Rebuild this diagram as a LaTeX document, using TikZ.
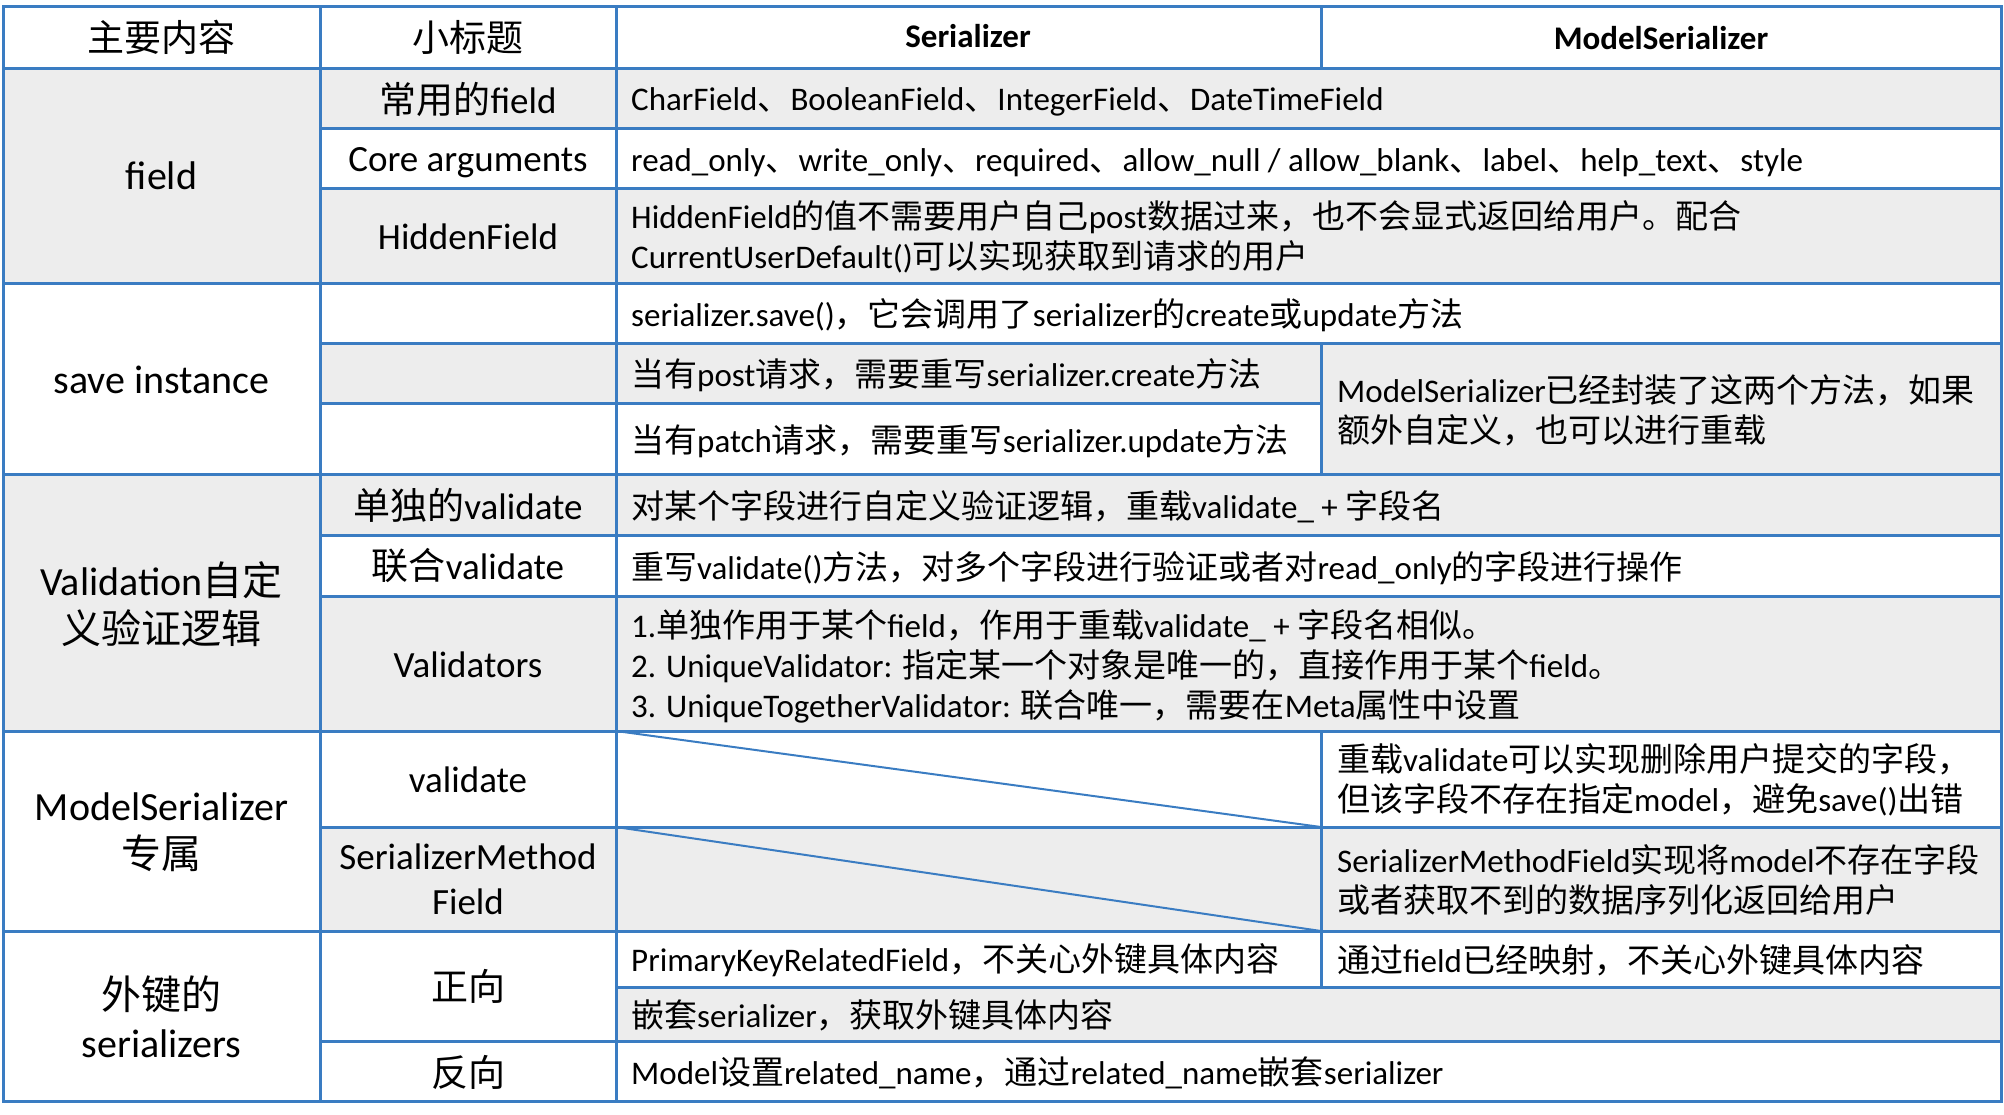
\documentclass[tikz,border=0pt]{standalone}
\usepackage{xcolor}
\usepackage{fontspec}
\usepackage{tikz}
\setmainfont{Carlito}
\newfontfamily\cjkfont{Noto Sans CJK SC}

% switch to the CJK font for Chinese characters
\XeTeXinterchartokenstate=1
\newXeTeXintercharclass\cjkclass
\newcount\cjkcode
\def\setcjkrange#1#2{\cjkcode=#1\relax
  \loop\XeTeXcharclass\cjkcode=\cjkclass
  \ifnum\cjkcode<#2\advance\cjkcode by 1\repeat}
\setcjkrange{"3000}{"303F}
\setcjkrange{"4E00}{"9FFF}
\setcjkrange{"FF00}{"FFEF}
\XeTeXinterchartoks 0 \cjkclass = {\cjkfont}
\XeTeXinterchartoks 4095 \cjkclass = {\cjkfont}
\XeTeXinterchartoks \cjkclass 0 = {\rmfamily}
\XeTeXinterchartoks \cjkclass 4095 = {\rmfamily}

\definecolor{tableblue}{RGB}{58,124,194}
\definecolor{cellgray}{RGB}{237,237,237}

\tikzset{
  gridline/.style={draw=tableblue, line width=3pt},
  grouptext/.style={inner sep=0pt, align=center, font=\fontsize{40}{48}\selectfont},
  subtext/.style={inner sep=0pt, align=center, font=\fontsize{37}{45}\selectfont},
  celltext/.style={inner sep=0pt, anchor=west, align=left, font=\fontsize{33}{40}\selectfont},
}

\begin{document}
\begin{tikzpicture}[x=1pt,y=-1pt]
    \useasboundingbox (0,0) rectangle (2004,1114);

    % Shade the gray cells
    \fill[cellgray] (3,68) rectangle (320,283);
    \fill[cellgray] (320,68) rectangle (2001,128);
    \fill[cellgray] (320,188) rectangle (2001,283);
    \fill[cellgray] (320,343) rectangle (1321,403);
    \fill[cellgray] (1321,343) rectangle (2001,474);
    \fill[cellgray] (3,474) rectangle (320,731);
    \fill[cellgray] (320,474) rectangle (2001,535);
    \fill[cellgray] (320,596) rectangle (2001,731);
    \fill[cellgray] (320,827) rectangle (2001,931);
    \fill[cellgray] (616,987) rectangle (2001,1041);

    % Draw the rules of the table
    \draw[gridline] (3,6) rectangle (2001,1101);
    \draw[gridline] (320,6) -- (320,1101);
    \draw[gridline] (616,6) -- (616,1101);
    \draw[gridline] (1321,6) -- (1321,68);
    \draw[gridline] (1321,343) -- (1321,474);
    \draw[gridline] (1321,731) -- (1321,987);
    \draw[gridline] (3,68) -- (2001,68);
    \draw[gridline] (320,128) -- (2001,128);
    \draw[gridline] (320,188) -- (2001,188);
    \draw[gridline] (3,283) -- (2001,283);
    \draw[gridline] (320,343) -- (2001,343);
    \draw[gridline] (320,403) -- (1321,403);
    \draw[gridline] (3,474) -- (2001,474);
    \draw[gridline] (320,535) -- (2001,535);
    \draw[gridline] (320,596) -- (2001,596);
    \draw[gridline] (3,731) -- (2001,731);
    \draw[gridline] (320,827) -- (2001,827);
    \draw[gridline] (3,931) -- (2001,931);
    \draw[gridline] (616,987) -- (2001,987);
    \draw[gridline] (320,1041) -- (2001,1041);

    % Diagonals of the empty Serializer cells
    \coordinate (valtop) at (616,731);
    \coordinate (valbot) at (1321,827);
    \coordinate (smftop) at (616,827);
    \coordinate (smfbot) at (1321,931);
    \draw[draw=tableblue, line width=2pt] (valtop) -- (valbot);
    \draw[draw=tableblue, line width=2pt] (smftop) -- (smfbot);

    % Header row
    \node[subtext] (hdmain) at (161.5,37) {主要内容};
    \node[subtext] (hdsub) at (468,37) {小标题};
    \node[inner sep=0pt, font=\fontsize{33}{40}\selectfont\bfseries] (hdser) at (968,36) {Serializer};
    \node[inner sep=0pt, font=\fontsize{33}{40}\selectfont\bfseries] (hdmodel) at (1661,38) {ModelSerializer};

    % First column
    \node[grouptext] (grpfield) at (161.5,176) {field};
    \node[grouptext] (grpsave) at (161.5,380) {save instance};
    \node[grouptext] (grpvalid) at (161.5,604) {Validation自定\\义验证逻辑};
    \node[grouptext] (grpmodel) at (161.5,832) {ModelSerializer\\专属};
    \node[grouptext] (grpfk) at (161.5,1017) {外键的\\serializers};

    % Second column
    \node[subtext] (subcommon) at (468,99) {常用的field};
    \node[subtext] (subcore) at (468,163) {Core arguments};
    \node[subtext] (subhidden) at (468,237) {HiddenField};
    \node[subtext] (subsingle) at (468,505) {单独的validate};
    \node[subtext] (subjoint) at (468,566) {联合validate};
    \node[subtext] (subvalidators) at (468,665) {Validators};
    \node[subtext] (subvalidate) at (468,780) {validate};
    \node[subtext] (submethod) at (468,879) {SerializerMethod\\Field};
    \node[subtext] (subforward) at (468,986) {正向};
    \node[subtext] (subreverse) at (468,1072) {反向};

    % Serializer column
    \node[celltext] (sercommon) at (631,102) {CharField、BooleanField、IntegerField、DateTimeField};
    \node[celltext] (sercore) at (631,163) {read\_only、write\_only、required、allow\_null / allow\_blank、label、help\_text、style};
    \node[celltext] (serhidden) at (631,237) {HiddenField的值不需要用户自己post数据过来，也不会显式返回给用户。配合\\CurrentUserDefault()可以实现获取到请求的用户};
    \node[celltext] (sersave) at (631,315) {serializer.save()，它会调用了serializer的create或update方法};
    \node[celltext] (serpost) at (631,375) {当有post请求，需要重写serializer.create方法};
    \node[celltext] (serpatch) at (631,441) {当有patch请求，需要重写serializer.update方法};
    \node[celltext] (sersingle) at (631,507) {对某个字段进行自定义验证逻辑，重载validate\_ + 字段名};
    \node[celltext] (serjoint) at (631,568) {重写validate()方法，对多个字段进行验证或者对read\_only的字段进行操作};
    \node[celltext] (servalidators) at (631,666) {1.单独作用于某个field，作用于重载validate\_ + 字段名相似。\\2. UniqueValidator: 指定某一个对象是唯一的，直接作用于某个field。\\3. UniqueTogetherValidator: 联合唯一，需要在Meta属性中设置};
    \node[celltext] (serforward) at (631,960) {PrimaryKeyRelatedField，不关心外键具体内容};
    \node[celltext] (sernested) at (631,1015) {嵌套serializer，获取外键具体内容};
    \node[celltext] (serreverse) at (631,1073) {Model设置related\_name，通过related\_name嵌套serializer};

    % ModelSerializer column
    \node[celltext] (modsave) at (1337,410) {ModelSerializer已经封装了这两个方法，如果\\额外自定义，也可以进行重载};
    \node[celltext] (modvalidate) at (1337,780) {重载validate可以实现删除用户提交的字段，\\但该字段不存在指定model，避免save()出错};
    \node[celltext] (modmethod) at (1337,880) {SerializerMethodField实现将model不存在字段\\或者获取不到的数据序列化返回给用户};
    \node[celltext] (modforward) at (1337,960) {通过field已经映射，不关心外键具体内容};
\end{tikzpicture}
\end{document}
